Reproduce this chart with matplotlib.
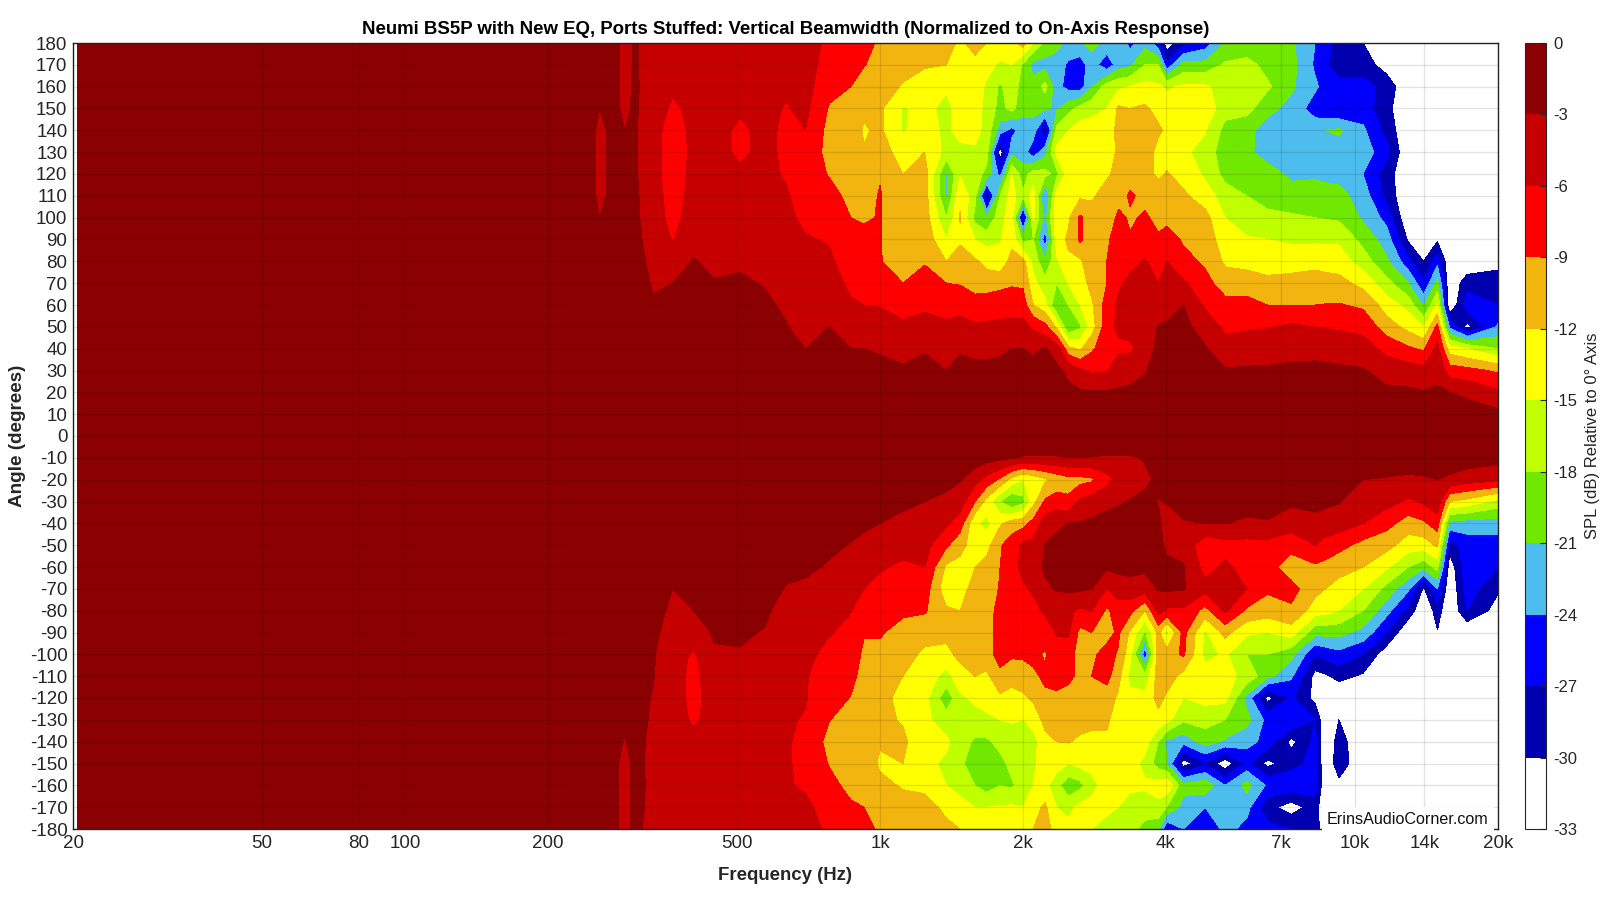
import matplotlib
matplotlib.use("Agg")
from matplotlib.colors import BoundaryNorm, ListedColormap
import matplotlib.pyplot as plt
import numpy as np

plt.rcParams["font.family"] = ["Liberation Sans", "DejaVu Sans"]
plt.rcParams["axes.unicode_minus"] = False

# angles for the two halves, top of the plot first
angles_upper = [180, 170, 160, 150, 140, 130, 120, 110, 100, 90, 80, 70, 60, 50, 40, 30, 20, 10, 0]
angles_lower = [-10, -20, -30, -40, -50, -60, -70, -80, -90, -100, -110, -120, -130, -140, -150, -160, -170, -180]

freqs = [20.4, 200, 240, 257, 275, 290, 305, 333, 366, 405, 447, 507, 573, 635, 696, 782, 868, 925, 1000, 1118,
         1242, 1379, 1474, 1585, 1677, 1790, 1893, 2000, 2102, 2226, 2354, 2491, 2636, 2790, 3002, 3175, 3360,
         3612, 3854, 4014, 4350, 4834, 5328, 5916, 6540, 7340, 8240, 8660, 9250, 10400, 11660, 12950, 13940,
         14910, 15820, 17210, 20000]

# one row per frequency
spl_upper = [
    [-1.2, -1.2, -1.2, -1.2, -1.2, -1.2, -1.2, -1.2, -1.2, -1.2, -1.2, -1.2, -1.2, -1.2, -1.2, -1.2, -1.2, -1.2, -1],
    [-1.5, -1.5, -1.5, -1.5, -1.5, -1.5, -1.5, -1.5, -1.5, -1.5, -1.5, -1.5, -1.5, -1.5, -1.5, -1.3, -1.2, -1, -1],
    [-2, -2, -2, -2, -2, -2, -2, -2, -2, -2, -2, -2, -2, -1.8, -1.6, -1.4, -1.2, -1, -1],
    [-2.5, -2.5, -2.5, -3, -3.4, -3.4, -3.4, -3.4, -3, -2.5, -2.2, -2, -2, -1.8, -1.6, -1.4, -1.2, -1, -1],
    [-2.5, -2.5, -2.5, -2.5, -2.5, -2.5, -2.5, -2.5, -2.4, -2.3, -2.2, -2, -2, -1.8, -1.6, -1.4, -1.2, -1, -1],
    [-3.5, -3.5, -3.5, -3.4, -3, -2.6, -2.4, -2.3, -2.3, -2.3, -2.2, -2, -2, -1.8, -1.6, -1.4, -1.2, -1, -1],
    [-2.8, -2.8, -2.7, -2.7, -2.7, -2.7, -2.7, -2.6, -2.5, -2.4, -2.2, -2, -2, -1.8, -1.6, -1.4, -1.2, -1, -1],
    [-3.8, -4, -4, -4.5, -4.8, -4.8, -4.8, -4.5, -4.5, -4, -3.6, -3.2, -2.8, -2.5, -2, -1.6, -1.2, -1, -1],
    [-4.5, -5, -5.5, -6.5, -7.5, -7.8, -7.8, -7.5, -7, -6.2, -4, -3, -2.6, -2.4, -2, -1.6, -1.2, -1, -1],
    [-4.5, -4.8, -5, -5.2, -5.2, -5.2, -5, -4.8, -4.5, -3.5, -2.9, -2.6, -2.3, -2.2, -2, -1.6, -1.2, -1, -1],
    [-5, -5, -5, -5, -5, -5, -5, -4.8, -4.5, -4, -3.4, -2.9, -2.6, -2.3, -2, -1.6, -1.2, -1, -1],
    [-5, -5, -5.2, -5.6, -6.5, -6.5, -5.5, -5, -4.5, -3.8, -3.2, -2.8, -2.6, -2.3, -2, -1.6, -1.2, -1, -1],
    [-5.3, -5.3, -5.3, -5.3, -5.3, -5.3, -5.3, -5.2, -5, -4.3, -3.6, -3.1, -2.7, -2.3, -2, -1.6, -1.2, -1, -1],
    [-5.5, -5.5, -5.6, -6.2, -6.6, -6.6, -6.3, -5.7, -5.5, -5, -4.5, -3.8, -3.3, -2.9, -2.3, -1.8, -1.4, -1.1, -1],
    [-5, -5, -5, -5.3, -6, -7, -7.5, -7.3, -6.5, -5.8, -5, -4.8, -4.5, -3.8, -3, -2.3, -1.8, -1.5, -1],
    [-6.5, -7, -8, -9.3, -10, -10, -9.2, -8, -7, -6.2, -5.5, -5, -4.8, -3, -2.5, -2, -1.5, -1.2, -1],
    [-7.5, -8, -9, -10, -10.5, -10.5, -10.3, -9.8, -9, -8.3, -7.5, -6.5, -5.7, -3.7, -3, -2.2, -1.6, -1.2, -1],
    [-8, -8.9, -10, -11.5, -12.3, -11.8, -11, -10, -9.2, -8.5, -7.5, -6.5, -6, -4, -3, -2.2, -1.5, -1.2, -1],
    [-9.5, -9.8, -10.5, -11.5, -11.5, -10.5, -9.2, -8.8, -8.9, -8.9, -8.9, -7.5, -6.2, -4.5, -3.2, -2.5, -1.8, -1.3, -1],
    [-10.3, -10.8, -12.3, -15.3, -15.2, -13.5, -12, -11.5, -11, -10.5, -10, -9, -7, -5.5, -3.5, -2.8, -2, -1.3, -1],
    [-10.5, -11.8, -13, -14, -14, -12, -10.5, -10.5, -10.5, -10, -9.2, -8, -6.5, -5, -3.2, -2.2, -1.6, -1.2, -1],
    [-11, -12, -14.5, -16, -15.5, -16, -21.5, -21.5, -18, -15, -12, -9, -7, -5.5, -3.8, -3, -2, -1.3, -1],
    [-12.5, -13.5, -13.5, -13.5, -14, -15.8, -15.3, -12.5, -11.8, -12.5, -10.5, -9.2, -7, -5, -3.2, -2.5, -1.8, -1.3, -1],
    [-11, -12.8, -13.5, -13.5, -14, -15.5, -16.5, -17, -19, -15, -11.5, -10, -8, -5.5, -3.5, -2.5, -1.8, -1.3, -1],
    [-12, -14, -15.5, -16, -16, -16.5, -19, -29.5, -21, -16, -13, -10.3, -7.5, -5.5, -3.5, -2.5, -1.8, -1.3, -1],
    [-13, -15.5, -18.5, -19, -22.5, -32, -25, -18, -16, -15.3, -13.8, -10, -7, -5.5, -3.3, -2.5, -1.8, -1.3, -1],
    [-13, -15, -16, -17, -25, -22, -15, -13.5, -13.5, -12.8, -11, -9.3, -7.5, -5, -3, -2.2, -1.7, -1.3, -1],
    [-10.5, -18.5, -19.5, -20, -22.5, -22.5, -19.5, -17.5, -29, -19, -11, -9.5, -7.5, -5, -3, -2, -1.5, -1.2, -1],
    [-15, -22, -20, -20, -22.5, -26, -16.5, -13.5, -14.5, -18, -16, -14, -12, -6.5, -3.5, -2, -1.5, -1.2, -1],
    [-19, -22, -17, -20.5, -29.5, -22, -17, -25, -22, -25.5, -20.5, -17, -14, -8, -2.8, -2, -1.5, -1.2, -1],
    [-20, -22.5, -23, -21.5, -17, -14, -19, -13.5, -13, -13.5, -15.5, -18, -21, -12.5, -4, -2.5, -1.8, -1.3, -1],
    [-22, -24.5, -25, -19, -15, -13.5, -13.2, -13, -12.5, -11.5, -12.5, -14.8, -18, -21, -11, -3.5, -2.5, -1.5, -1],
    [-21.5, -25.5, -25.5, -17, -13.5, -13, -12.2, -12.5, -8.5, -8.5, -12.5, -13.5, -15, -18.5, -12.5, -5.5, -2.6, -1.6, -1],
    [-20, -22.5, -21, -16, -13.5, -13, -13, -12.5, -10.5, -10.5, -10, -11, -12.5, -13.5, -9.5, -6.5, -2.7, -1.7, -1],
    [-22, -26, -16.5, -15, -14, -13.5, -12.5, -10.5, -12, -9.5, -9, -9, -7.5, -7, -7, -6.2, -2.7, -1.8, -1],
    [-21.5, -22.5, -15.5, -11.5, -11, -11.5, -11, -10.5, -8, -7.5, -6.8, -6.5, -5.5, -5.5, -6.5, -4.5, -2.6, -1.6, -1],
    [-25, -21.5, -15, -12, -10.5, -10.3, -10.5, -8.5, -9.5, -8.7, -7, -5.2, -5, -5, -6.5, -4, -2.5, -1.5, -1],
    [-22, -18, -14, -11.5, -10.5, -10.3, -11, -10, -8.5, -7, -5.8, -5, -5, -5, -4.5, -3.2, -2.2, -1.5, -1],
    [-26, -18, -14.5, -13, -11.5, -13, -12.5, -10.5, -10, -8.5, -7, -6, -4.5, -2.8, -2.3, -1.9, -1.6, -1.3, -1],
    [-32, -26, -15.5, -13.5, -12.5, -13, -11.8, -10.5, -10, -7.5, -6, -5, -4, -2.7, -2.2, -1.8, -1.5, -1.2, -1],
    [-28, -20, -14.5, -13.5, -13.5, -14.5, -13, -11.5, -10, -9.4, -8, -5.5, -3, -2.5, -2, -1.8, -1.5, -1.2, -1],
    [-25.5, -20, -14.5, -13, -14.8, -16, -15.5, -13.5, -11, -9.9, -9.5, -8, -6.5, -3.8, -2.8, -2, -1.5, -1.2, -1],
    [-21, -17.5, -16.5, -16.8, -19, -20, -19, -16.5, -15, -14, -12.5, -10.5, -8, -6.8, -4.5, -2.8, -1.8, -1.3, -1],
    [-20, -17, -16.5, -17, -20, -20.5, -20, -18, -16, -14.8, -13, -10.5, -8, -6.5, -3.8, -2.8, -1.8, -1.3, -1],
    [-19, -19, -17.5, -20, -22.5, -22, -20, -19.5, -17, -15, -13.8, -11, -9, -6.2, -4, -2.7, -1.8, -1.3, -1],
    [-20.5, -20, -20.5, -22, -22.5, -22, -21.5, -20, -17.5, -15.5, -13.2, -11, -9, -5.5, -3.5, -2.7, -1.8, -1.3, -1],
    [-24, -24.5, -23.5, -25.5, -22, -22, -21.5, -19.5, -18, -15.5, -13, -10.5, -9, -6, -3.5, -2.6, -1.8, -1.3, -1],
    [-26, -26.5, -25, -26.5, -21, -22.3, -21.8, -19.8, -18.2, -15.5, -13.2, -10.8, -8.9, -6.2, -3.5, -2.7, -1.8, -1.3, -1],
    [-28, -28.5, -26, -27.2, -20.5, -22.5, -22, -20, -18.5, -15.5, -13.5, -11, -8.8, -6.5, -3.5, -2.8, -1.8, -1.3, -1],
    [-30, -28.5, -26, -25.5, -23.5, -22.5, -24, -22.5, -21.5, -19, -16.5, -13, -9.5, -7, -4.5, -2.8, -2, -1.4, -1],
    [-33, -31.5, -28, -29, -28, -26, -28.5, -28, -25, -22.5, -20.5, -17, -13.5, -10.5, -7, -4, -2.5, -1.5, -1],
    [-33, -33, -33, -33, -33, -33, -33, -33, -33, -30.5, -26, -21, -16, -13, -8.5, -4.5, -2.5, -1.6, -1],
    [-33, -33, -33, -33, -33, -33, -33, -33, -33, -33, -30, -26.5, -21.5, -15, -9.5, -5, -2.8, -1.9, -1],
    [-33, -33, -33, -33, -33, -33, -33, -33, -33, -30.5, -25, -20, -14.5, -8, -5, -3.8, -2.6, -1.6, -1],
    [-33, -33, -33, -33, -33, -33, -33, -33, -33, -33, -33, -33, -33, -24.5, -13.5, -7.5, -3, -2, -1],
    [-33, -33, -33, -33, -33, -33, -33, -33, -33, -33, -33, -28, -25.5, -31, -15, -8, -3.5, -1.8, -1],
    [-33, -33, -33, -33, -33, -33, -33, -33, -33, -33, -31, -28.5, -27, -23.5, -18, -9.5, -5.5, -2.2, -1],
]

spl_lower = [
    [-1.2, -1.2, -1.2, -1.2, -1.2, -1.2, -1.2, -1.2, -1.2, -1.2, -1.2, -1.2, -1.2, -1.2, -1.2, -1.2, -1.2, -1.2],
    [-1.2, -1.3, -1.5, -1.5, -1.5, -1.5, -1.5, -1.5, -1.5, -1.5, -1.5, -1.5, -1.5, -1.5, -1.5, -1.5, -1.5, -1.5],
    [-1.2, -1.3, -1.5, -1.7, -1.9, -2, -2, -2, -2, -2, -2, -2, -2, -2, -2, -2, -2, -2],
    [-1.2, -1.3, -1.5, -1.7, -1.9, -2, -2, -2, -2, -2, -2, -2, -2, -2, -2, -2, -2, -2],
    [-1.2, -1.3, -1.5, -1.8, -2, -2.2, -2.3, -2.3, -2.4, -2.4, -2.4, -2.5, -2.5, -2.5, -2.5, -2.5, -2.5, -2.5],
    [-1.2, -1.3, -1.5, -1.8, -2, -2.2, -2.3, -2.4, -2.4, -2.4, -2.5, -2.5, -2.7, -3.1, -3.6, -3.6, -3.6, -3.6],
    [-1.2, -1.3, -1.5, -1.8, -2, -2.2, -2.3, -2.4, -2.5, -2.5, -2.5, -2.5, -2.5, -2.5, -2.5, -2.5, -2.5, -2.5],
    [-1, -1.2, -1.5, -1.8, -2, -2.2, -2.4, -2.5, -2.6, -2.8, -2.9, -3.1, -3.2, -3.4, -3.5, -3.4, -3.5, -3.8],
    [-1, -1.2, -1.5, -1.8, -2.2, -2.7, -3, -3.3, -3.8, -4.5, -4.5, -4.5, -4.5, -4.5, -4.2, -3.8, -4.2, -4.5],
    [-1, -1.2, -1.5, -1.8, -2.2, -2.5, -2.8, -3, -3.5, -6.5, -7, -7, -6.5, -5, -4.5, -4.5, -4.8, -5],
    [-1, -1.2, -1.5, -1.8, -2.1, -2.3, -2.5, -2.7, -2.9, -3.1, -3.8, -4.5, -4.8, -5, -5, -5, -5, -5],
    [-1, -1.2, -1.5, -1.8, -2.1, -2.3, -2.5, -2.7, -2.8, -3.1, -3.8, -4.5, -5, -5, -5, -5, -5, -5],
    [-1, -1.2, -1.5, -1.8, -2.1, -2.3, -2.5, -2.7, -3.1, -4, -4.5, -4.8, -5, -5.2, -5.5, -5.5, -5.3, -5.3],
    [-1, -1.2, -1.5, -1.8, -2.2, -2.6, -3.1, -3.8, -4.3, -4.8, -5.2, -5.5, -5.7, -5.8, -5.8, -5.8, -5.5, -5.5],
    [-1, -1, -1.2, -1.5, -2, -2.6, -3.4, -4.5, -5, -5.3, -5.8, -5.8, -6.2, -6.5, -6.5, -6.3, -5.5, -5],
    [-1, -1.2, -1.5, -2, -2.6, -3.2, -4, -5, -5.8, -6.8, -7.5, -8, -8.9, -10, -9.2, -8, -7, -6.5],
    [-1, -1.3, -1.8, -2.4, -3.1, -4, -5, -5.9, -6.8, -7.5, -8.2, -9.1, -10.3, -11, -11, -10, -8.5, -7.5],
    [-1, -1.4, -2, -2.7, -3.4, -4.8, -6, -7.5, -8.8, -9.5, -10, -10.5, -11, -11, -10.8, -10, -9, -8],
    [-1, -1.5, -2.2, -3, -4, -5.7, -6.8, -7.8, -8.8, -9.5, -10.3, -11, -11.5, -11.8, -12.3, -11.5, -10.5, -9.5],
    [-1, -1.6, -2.6, -3.5, -5, -6.5, -7.5, -8.6, -9.8, -10.8, -12, -13, -12.2, -11.5, -12, -12.2, -11.2, -10.5],
    [-1, -1.6, -3, -4, -5, -6, -7.5, -8.7, -10.8, -12.6, -13.5, -14, -14.3, -14, -14.3, -12.5, -11.2, -10.5],
    [-1, -2, -3.8, -5.5, -8.5, -12.5, -14, -11.5, -11, -13, -16, -20, -16.5, -14.5, -15.5, -15, -12.5, -11.5],
    [-1, -2.8, -4.5, -7.5, -11, -13, -13, -12, -10.8, -11, -13.5, -15.5, -17, -16.5, -17.5, -16, -14, -12],
    [-1.2, -5, -9, -14.5, -13.5, -12, -11, -10.5, -10.3, -10.3, -12, -14.5, -16, -18.5, -19.5, -18, -15, -13],
    [-1.8, -7, -13, -16, -13, -11, -10.3, -10.2, -10.3, -10.5, -12.5, -14, -15.5, -18.5, -20.5, -19.5, -15, -13.5],
    [-2.2, -9.5, -18, -12.5, -9.3, -9, -8.8, -8, -7.5, -7.5, -10, -12.5, -15, -17, -19, -18, -14.8, -13.5],
    [-2.7, -13, -21, -10.5, -7.5, -7, -7, -7.5, -8, -8.5, -11, -13, -14.8, -16, -17, -18.5, -14.5, -13],
    [-3.2, -15, -19, -10, -5.5, -5.2, -6.5, -7.5, -8, -8.5, -10.5, -12.5, -15, -16.5, -17, -16.5, -15, -12.5],
    [-3.2, -14, -13, -8, -5, -4.2, -5.5, -7, -7.5, -8.3, -9.5, -11.5, -14, -16, -15.5, -15, -13, -12],
    [-3.2, -12.5, -8.5, -4.5, -2.9, -2.6, -3.5, -5.5, -7.5, -9.3, -8.5, -9.5, -11, -13, -13.5, -14, -11.5, -11],
    [-3.2, -11, -7.5, -3.5, -2.3, -2.2, -2.8, -4.5, -5.8, -7, -8, -9.5, -11, -12, -13.5, -17, -15, -13],
    [-3, -10, -8.5, -3, -2, -2, -2.5, -5.5, -5.5, -7.5, -8.5, -9.8, -10.8, -11.8, -15, -20, -16, -14],
    [-3, -10, -5.5, -2.8, -2, -2, -2.5, -6.5, -9.8, -10.5, -9.5, -10, -11, -12.5, -14, -19, -14, -15],
    [-3.1, -9.5, -4.5, -2.5, -2, -2, -3, -6, -9, -9.5, -9, -10, -11, -13, -14, -16, -14, -15],
    [-3.3, -7, -3.5, -2.3, -2, -2.5, -6, -9.5, -10, -8, -8, -10.5, -11.5, -12.5, -14, -13.5, -14, -16.5],
    [-3.2, -5, -3.2, -2.3, -2, -2.3, -4.5, -7.5, -8.5, -9.3, -11, -12.5, -13.5, -13.5, -13.8, -14, -15, -16.5],
    [-3.3, -4, -2.9, -2.2, -2, -2.2, -4, -8, -12.5, -14, -16, -14, -13.5, -13.5, -13.5, -14.5, -16, -17],
    [-2.8, -3.5, -2.4, -2, -2, -2.4, -4.5, -12, -18.5, -26, -17, -14, -13.5, -13.5, -16, -14.5, -16.5, -19],
    [-1.5, -2.5, -3.1, -2.5, -2.3, -2.2, -2.8, -5, -11, -10, -10.5, -11, -13, -18, -19.5, -13.5, -16, -20],
    [-1.5, -1.8, -2.9, -4, -3.5, -2.4, -2.5, -6.5, -16, -10.5, -10.5, -12.5, -14, -21.5, -21, -12.5, -18, -27],
    [-1.2, -1.5, -1.8, -3.2, -4, -2.8, -2.8, -6.5, -8, -8.5, -13, -15, -17.5, -23, -31.5, -20, -22, -24],
    [-3.1, -1.5, -1.8, -3, -8, -7, -5, -10, -15.5, -16, -13.5, -14, -17, -19.5, -27.5, -19, -24, -27],
    [-1, -1.2, -1.5, -2.9, -7, -5.5, -5, -5.5, -11, -14.5, -14, -14, -18, -21.5, -32, -24, -21, -23],
    [-1, -1.3, -1.8, -3.5, -7, -7, -6, -9.5, -14.5, -18, -16, -22, -20, -23, -26, -20, -23, -25],
    [-1, -1.3, -2, -3.2, -7, -8, -8.5, -10.5, -15, -18, -20, -31, -25, -25, -31, -24.5, -29, -26],
    [-1, -1.5, -2.5, -4.5, -8, -10.5, -8, -9.5, -13.5, -20, -23.5, -26.5, -24, -31, -28, -25, -31.5, -27],
    [-1, -1.2, -2, -4, -6, -9.5, -11, -13.5, -20, -27, -31, -31, -27, -26, -26, -25.5, -28.5, -28],
    [-1, -1.3, -2.4, -4.3, -7, -10, -12, -14, -20, -26, -30.5, -33, -33, -33, -33, -33, -33, -33],
    [-1, -1.4, -2.8, -4.5, -8, -11, -13, -15, -20, -25, -29, -33, -30, -28.5, -28, -31, -33, -33],
    [-1.2, -3, -5, -6, -10, -12, -15, -18, -22, -27, -30.5, -33, -33, -33, -33, -33, -33, -33],
    [-1.5, -3.2, -5, -8, -11, -14.5, -19, -23, -27, -32, -33, -33, -33, -33, -33, -33, -33, -33],
    [-1.5, -3.5, -6.5, -10.5, -13.5, -18, -23.5, -28, -33, -33, -33, -33, -33, -33, -33, -33, -33, -33],
    [-1.5, -3.3, -5.5, -9.5, -13.5, -20, -30.5, -33, -33, -33, -33, -33, -33, -33, -33, -33, -33, -33],
    [-1.5, -3, -4, -7.5, -11.5, -17, -24, -28.5, -30.2, -33, -33, -33, -33, -33, -33, -33, -33, -33],
    [-1.5, -3.5, -12, -22, -28.5, -32, -33, -33, -33, -33, -33, -33, -33, -33, -33, -33, -33, -33],
    [-1.5, -4.5, -13, -22.5, -25.5, -25, -25.5, -27, -33, -33, -33, -33, -33, -33, -33, -33, -33, -33],
    [-1.8, -5.5, -16, -22.5, -25.5, -27, -29.5, -31.5, -33, -33, -33, -33, -33, -33, -33, -33, -33, -33],
]

levels = [-33, -30, -27, -24, -21, -18, -15, -12, -9, -6, -3, 0]
band_colors = ["#FFFFFF", "#0000B0", "#0000FF", "#4DBDEE", "#70E800", "#BFFF00",
               "#FFFF00", "#F2B40F", "#FF0000", "#C60000", "#8B0000"]

x_ticks = [20, 50, 80, 100, 200, 500, 1000, 2000, 4000, 7000, 10000, 14000, 20000]
x_labels = ["20", "50", "80", "100", "200", "500", "1k", "2k", "4k", "7k", "10k", "14k", "20k"]

angles = np.array(angles_upper + angles_lower)
spl = np.hstack([np.array(spl_upper), np.array(spl_lower)])

fig = plt.figure(figsize=(16, 9), dpi=100)
ax = fig.add_axes([73 / 1600, 1 - 829 / 900, 1425 / 1600, 786 / 900])
cax = fig.add_axes([1525 / 1600, 1 - 829 / 900, 21 / 1600, 786 / 900])

cmap = ListedColormap(band_colors)
norm = BoundaryNorm(levels, cmap.N)
order = np.argsort(angles)
cf = ax.contourf(freqs, angles[order], spl[:, order].T, levels=levels, cmap=cmap, norm=norm)

ax.set_xscale("log")
ax.set_xlim(20, 20000)
ax.set_ylim(-180, 180)
ax.set_xticks(x_ticks, x_labels)
ax.minorticks_off()
ax.set_yticks(np.arange(-180, 181, 10))
ax.tick_params(length=0, labelsize=13.5, labelcolor="#262626", pad=4)
ax.set_axisbelow(False)
ax.grid(True, color="black", alpha=0.11, linewidth=1)
for spine in ax.spines.values():
    spine.set_color("#262626")
    spine.set_linewidth(1)

ax.set_title("Neumi BS5P with New EQ, Ports Stuffed: Vertical Beamwidth (Normalized to On-Axis Response)",
             fontsize=13.45, fontweight="bold", pad=6.5)
ax.set_xlabel("Frequency (Hz)", fontsize=13.4, fontweight="bold", color="#262626", labelpad=11)
ax.set_ylabel("Angle (degrees)", fontsize=13.6, fontweight="bold", color="#262626", labelpad=3)

ax.text(0.9935, 0.0025, "ErinsAudioCorner.com", transform=ax.transAxes, ha="right", va="bottom",
        fontsize=11.6, color="#111111", zorder=5,
        bbox=dict(facecolor="white", edgecolor="none", pad=3.5))

cb = fig.colorbar(cf, cax=cax, ticks=levels, spacing="proportional", drawedges=False)
cb.ax.set_yticklabels([str(v) for v in levels])
cb.ax.tick_params(direction="in", length=4, width=0.8, labelsize=12, labelcolor="#262626", color="#262626", pad=5)
cb.outline.set_edgecolor("#262626")
cb.outline.set_linewidth(0.8)
cb.set_label("SPL (dB) Relative to 0° Axis", fontsize=12, color="#262626", labelpad=5.5)

fig.savefig("out.png", dpi=100)
plt.close(fig)
